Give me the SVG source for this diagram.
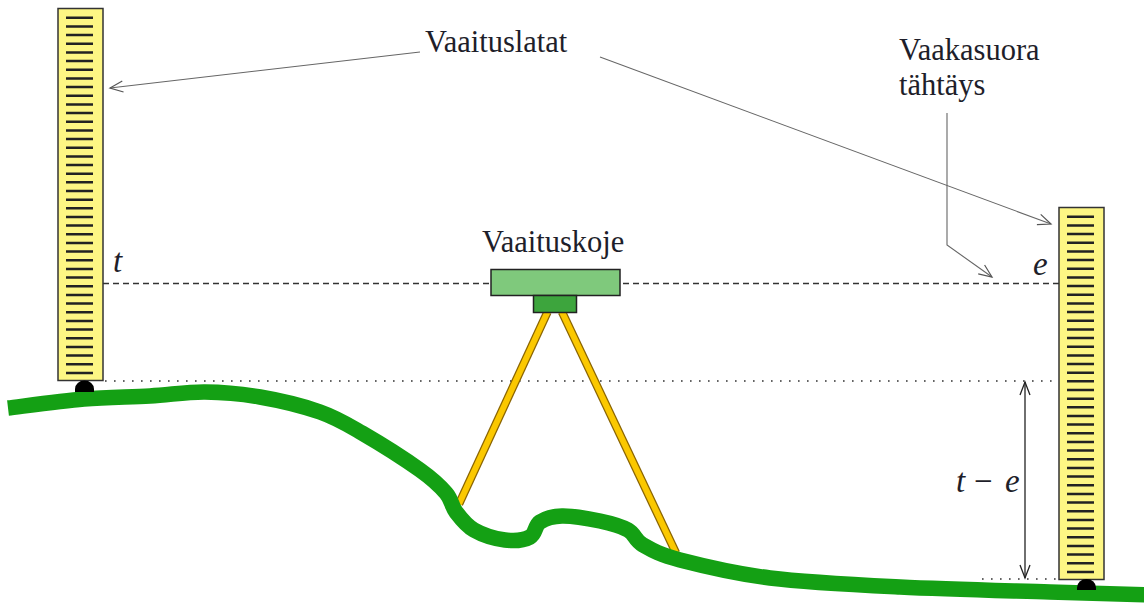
<svg xmlns="http://www.w3.org/2000/svg" xmlns:xlink="http://www.w3.org/1999/xlink" width="1144" height="604" viewBox="0 0 1144 604">
  <style>
    text { font-family: "Liberation Serif", "Times New Roman", serif; }
    .label { font-size: 30.5px; fill: #1e1e2a; }
    .math { font-size: 33px; font-style: italic; fill: #1e1e2a; }
    .leader { fill: none; stroke: #666; stroke-width: 1.1; }
    .dim { fill: none; stroke: #222; stroke-width: 1.3; }
    .sight { fill: none; stroke: #333; stroke-width: 1.3; stroke-dasharray: 6 4; }
    .level { fill: none; stroke: #333; stroke-width: 1.6; stroke-dasharray: 1.6 7.4; }
    .staff { fill: #fdf684; stroke: #333; stroke-width: 1.5; }
    .ticks { fill: none; stroke: #222; stroke-width: 2.5; }
    .foot { fill: #000; }
    .leg-edge { stroke: #8a6400; stroke-width: 8.5; }
    .leg { stroke: #fbc800; stroke-width: 6; }
    .ground { fill: none; stroke: #14a014; stroke-width: 15.5; stroke-linejoin: round; }
  </style>
  <defs>
    <marker id="arrow-grey" markerUnits="userSpaceOnUse" markerWidth="16" markerHeight="14" refX="14" refY="7" orient="auto-start-reverse">
      <path d="M1,1.5 L14,7 L1,12.5" fill="none" stroke="#555" stroke-width="1.2"/>
    </marker>
    <marker id="arrow-dark" markerUnits="userSpaceOnUse" markerWidth="16" markerHeight="14" refX="14" refY="7" orient="auto-start-reverse">
      <path d="M1,2 L14,7 L1,12" fill="none" stroke="#222" stroke-width="1.3"/>
    </marker>
    <!-- levelling staff: body plus graduation marks -->
    <g id="rod">
      <rect class="staff" x="0" y="0" width="45" height="372"/>
      <path class="ticks" d="M8,9.3H35 M8,18H35 M8,26.6H35 M8,35.3H35 M8,43.9H35 M8,52.6H35 M8,61.3H35 M8,69.9H35 M8,78.6H35 M8,87.2H35 M8,95.9H35 M8,104.6H35 M8,113.2H35 M8,121.9H35 M8,130.5H35 M8,139.2H35 M8,147.9H35 M8,156.5H35 M8,165.2H35 M8,173.8H35 M8,182.5H35 M8,191.2H35 M8,199.8H35 M8,208.5H35 M8,217.1H35 M8,225.8H35 M8,234.5H35 M8,243.1H35 M8,251.8H35 M8,260.4H35 M8,269.1H35 M8,277.8H35 M8,286.4H35 M8,295.1H35 M8,303.7H35 M8,312.4H35 M8,321.1H35 M8,329.7H35 M8,338.4H35 M8,347H35 M8,355.7H35 M8,364.4H35"/>
    </g>
  </defs>

  <!-- reference lines -->
  <g id="reference-lines">
    <path class="sight" d="M103,283.5H1059"/>
    <path class="level" d="M105,381H1059"/>
    <path class="level" d="M982,579H1059"/>
  </g>

  <!-- tripod -->
  <g id="tripod">
    <line class="leg-edge" x1="547.5" y1="312" x2="459" y2="504"/>
    <line class="leg" x1="547.5" y1="312" x2="459" y2="504"/>
    <line class="leg-edge" x1="562" y1="312" x2="676" y2="553"/>
    <line class="leg" x1="562" y1="312" x2="676" y2="553"/>
  </g>

  <!-- terrain -->
  <g id="ground">
    <path class="ground" d="M8,408 C20.7,406.5 60.3,401 84,399 C107.7,397 129.8,397.2 150,396 C170.2,394.8 186.7,391.8 205,392 C223.3,392.2 240.8,393.7 260,397 C279.2,400.3 303,406 320,412 C337,418 345.3,423.3 362,433 C378.7,442.7 406,460 420,470 C434,480 440,486 446,493 C452,500 451.3,505.8 456,512 C460.7,518.2 465.8,525.3 474,530 C482.2,534.7 495.7,538.8 505,540 C514.3,541.2 524.2,540 530,537 C535.8,534 534.7,525.5 540,522 C545.3,518.5 552,516.2 562,516 C572,515.8 589,518.7 600,521 C611,523.3 620.8,526 628,530 C635.2,534 634.3,540 643,545 C651.7,550 658.8,554.5 680,560 C701.2,565.5 733.3,573.5 770,578 C806.7,582.5 853.3,584.7 900,587 C946.7,589.3 1008.3,590.7 1050,592 C1091.7,593.3 1133.3,594.5 1150,595"/>
  </g>

  <!-- staves -->
  <g id="staff-left">
    <use xlink:href="#rod" transform="translate(58,8.5)"/>
    <path class="foot" d="M75,392 L75,389 A9.5,8.5 0 0 1 94,389 L94,392 Z"/>
  </g>
  <g id="staff-right">
    <use xlink:href="#rod" transform="translate(1059,207.5)"/>
    <path class="foot" d="M1077,590 L1077,587.5 A9.5,8.5 0 0 1 1096,587.5 L1096,590 Z"/>
  </g>

  <!-- levelling instrument -->
  <g id="instrument">
    <rect x="491" y="269.5" width="129" height="26" fill="#7fc97c" stroke="#222" stroke-width="1.5"/>
    <rect x="533.5" y="295.5" width="43" height="17" fill="#3da53d" stroke="#222" stroke-width="1.5"/>
    <text class="label" x="482" y="252">Vaaituskoje</text>
  </g>

  <!-- labels -->
  <g id="label-staves">
    <text class="label" x="425" y="52">Vaaituslatat</text>
  </g>
  <g id="label-sight">
    <text class="label" x="899" y="60">Vaakasuora</text>
    <text class="label" x="899" y="95">tähtäys</text>
  </g>
  <g id="label-t"><text class="math" x="113" y="272">t</text></g>
  <g id="label-e"><text class="math" x="1033" y="275">e</text></g>
  <g id="label-diff">
    <text class="math" x="956" y="492">t<tspan x="974" font-style="normal">−</tspan><tspan x="1005">e</tspan></text>
  </g>

  <!-- connectors -->
  <g id="connectors">
    <path class="leader" d="M420,52 L110,88" marker-end="url(#arrow-grey)"/>
    <path class="leader" d="M600,57 L1051,224" marker-end="url(#arrow-grey)"/>
    <path class="leader" d="M947,113 L947,245 L992,277" marker-end="url(#arrow-grey)"/>
    <path class="dim" d="M1025,382 L1025,578" marker-start="url(#arrow-dark)" marker-end="url(#arrow-dark)"/>
  </g>
</svg>
